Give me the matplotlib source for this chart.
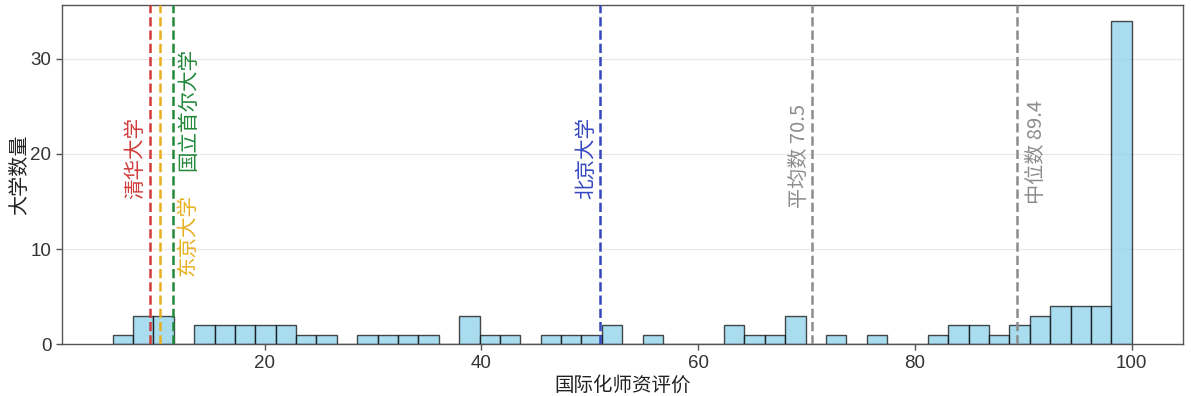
import numpy as np
import matplotlib
matplotlib.use("Agg")
import matplotlib.pyplot as plt

# ---- data ----
score_min = 5.97
score_max = 100.0
n_bins = 50
bin_counts = [1, 3, 3, 0, 2, 2, 2, 2, 2, 1,
              1, 0, 1, 1, 1, 1, 0, 3, 1, 1,
              0, 1, 1, 1, 2, 0, 1, 0, 0, 0,
              2, 1, 1, 3, 0, 1, 0, 1, 0, 0,
              1, 2, 2, 1, 2, 3, 4, 4, 4, 34]
highlight_names = ["清华大学", "东京大学", "国立首尔大学", "北京大学"]
highlight_scores = [9.4, 10.3, 11.5, 50.9]
mean_value = 70.5
median_value = 89.4
x_label = "国际化师资评价"
y_label = "大学数量"

# ---- styles / positions ----
highlight_colors = ["#d23b3b", "#e8b021", "#23893a", "#3547bf"]
highlight_text_xy = [(8.06, 19.6), (12.9, 11.5), (12.9, 24.7), (49.67, 19.6)]
stat_color = "#8c8c8c"
mean_text_xy = (69.3, 19.75)
median_text_xy = (91.2, 20.2)

plt.rcParams['font.family'] = ['Liberation Sans', 'Noto Sans CJK SC']
cjk = ['Noto Sans CJK SC', 'DejaVu Sans']

fig = plt.figure(figsize=(11.91, 3.96), dpi=100)
ax = fig.add_axes([0.0518, 0.131, 0.9412, 0.857])

edges = np.linspace(score_min, score_max, n_bins + 1)
centers = (edges[:-1] + edges[1:]) / 2
ax.hist(centers, bins=edges, weights=bin_counts, color="skyblue", alpha=0.7,
        edgecolor="black", linewidth=1.0, zorder=2)

ax.set_xlim(score_min - 0.05 * (score_max - score_min), score_max + 0.05 * (score_max - score_min))
ax.set_ylim(0, max(bin_counts) * 1.05)

for name, s, c, (tx, ty) in zip(highlight_names, highlight_scores, highlight_colors, highlight_text_xy):
    ax.axvline(s, color=c, linestyle="--", linewidth=1.8, zorder=3)
    ax.text(tx, ty, name, rotation=90, color=c, ha="center", va="center",
            fontsize=14.8, family=cjk, weight="medium", zorder=4)

ax.axvline(mean_value, color=stat_color, linestyle="--", linewidth=1.8, zorder=3)
ax.text(mean_text_xy[0], mean_text_xy[1], f"平均数 {mean_value:.1f}", rotation=90,
        color=stat_color, ha="center", va="center", fontsize=14.5, family=cjk)
ax.axvline(median_value, color=stat_color, linestyle="--", linewidth=1.8, zorder=3)
ax.text(median_text_xy[0], median_text_xy[1], f"中位数 {median_value:.1f}", rotation=90,
        color=stat_color, ha="center", va="center", fontsize=14.5, family=cjk)

ax.set_xticks([20, 40, 60, 80, 100])
ax.set_yticks([0, 10, 20, 30])
ax.grid(axis="y", color="#e8e8e8", linewidth=0.8, zorder=0)
ax.set_axisbelow(True)
ax.tick_params(axis="both", labelsize=13.5, colors="#333333", length=4, width=1, direction="out")
ax.tick_params(axis="both", color="#555555")
for sp in ax.spines.values():
    sp.set_color("#555555")
    sp.set_linewidth(1.0)

ax.set_xlabel(x_label, fontsize=14, family=cjk, weight="medium", color="#222222", labelpad=2)
ax.set_ylabel(y_label, fontsize=14.5, family=cjk, weight="medium", color="#222222")
ax.yaxis.set_label_coords(-0.0283, 0.5)

fig.savefig("out.png", dpi=100)
